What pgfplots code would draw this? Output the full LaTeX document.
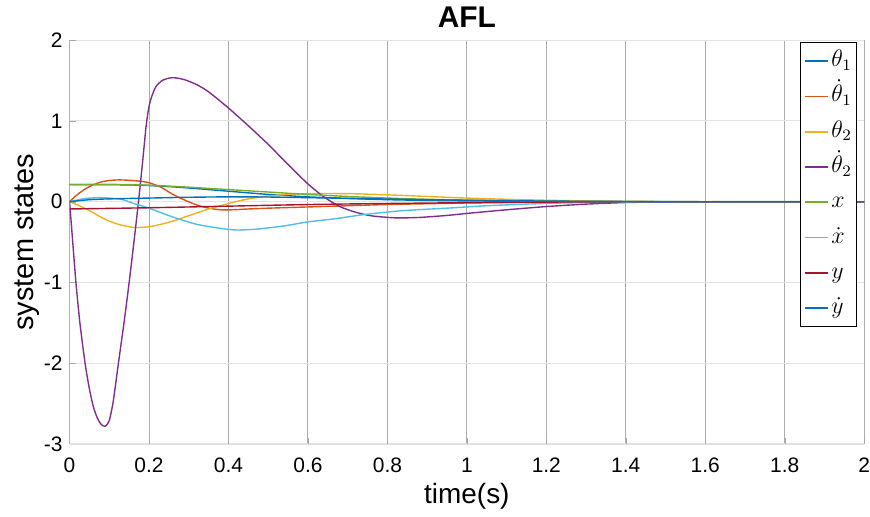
\documentclass[border=0pt]{standalone}
\usepackage{fontspec}
\setmainfont{Liberation Sans}
\usepackage{pgfplots}
\pgfplotsset{compat=1.18}

\definecolor{mblue}{rgb}{0,0.447,0.741}
\definecolor{morange}{rgb}{0.85,0.325,0.098}
\definecolor{myellow}{rgb}{0.929,0.694,0.125}
\definecolor{mpurple}{rgb}{0.494,0.184,0.556}
\definecolor{mgreen}{rgb}{0.466,0.674,0.188}
\definecolor{mcyan}{rgb}{0.301,0.745,0.933}
\definecolor{mred}{rgb}{0.635,0.078,0.184}

\begin{document}
\begin{tikzpicture}
\begin{axis}[
    width=398.5pt, height=202.5pt, scale only axis,
    xmin=0, xmax=2, ymin=-3, ymax=2,
    xtick={0,0.2,...,2.01}, ytick={-3,-2,-1,0,1,2},
    xticklabels={0,0.2,0.4,0.6,0.8,1,1.2,1.4,1.6,1.8,2},
    yticklabels={-3,-2,-1,0,1,2},
    axis x line*=bottom, axis y line*=left,
    x axis line style={gray!25, -}, y axis line style={gray!60, -},
    tick style={gray!70}, major tick length=3pt,
    grid=major,
    major x grid style={gray!65, line width=0.5pt},
    major y grid style={gray!22, line width=0.5pt},
    tick label style={font=\fontsize{10.5}{12}\selectfont},
    xticklabel style={anchor=base, yshift=-14.5pt, inner xsep=0pt},
    /pgf/number format/assume math mode=true,
    title={\textbf{AFL}},
    title style={font=\fontsize{15}{17}\selectfont, at={(axis description cs:0.5,1)}, anchor=base, yshift=0.5pt},
    xlabel={time(s)}, ylabel={system states},
    xlabel style={font=\fontsize{14}{16}\selectfont, at={(axis description cs:0.5,0)}, anchor=base, yshift=-30pt},
    ylabel style={font=\fontsize{14.5}{16}\selectfont, at={(axis description cs:-0.0452,0.5)}, anchor=base, inner ysep=7.5pt},
    every axis plot/.append style={line width=0.7pt, smooth, tension=0.4},
    legend style={at={(1,1)}, anchor=north east, xshift=-3.5pt, yshift=-1pt,
        draw=black, line width=0.5pt, fill=white, inner xsep=1.5pt, inner ysep=3pt,
        font=\fontsize{12}{14}\selectfont, row sep=5.2pt,
        nodes={inner xsep=1pt, inner ysep=0pt, text height=9pt, text depth=3.5pt}},
    legend cell align=left,
    legend image code/.code={\draw[mark repeat=2,mark phase=2,#1,line width=0.9pt] plot coordinates {(0cm,0cm) (0.21cm,0cm) (0.42cm,0cm)};},
  ]
  % theta_1
  \addplot[mblue] coordinates {(0,0.21) (0.1,0.21) (0.15,0.208) (0.2,0.20) (0.25,0.187) (0.3,0.17) (0.35,0.15) (0.4,0.13) (0.5,0.09) (0.6,0.06) (0.7,0.04) (0.8,0.025) (0.9,0.016) (1.0,0.01) (1.15,0.004) (1.3,0.001) (1.5,0) (2,0)};
  % theta_1 dot
  \addplot[morange] coordinates {(0,0) (0.02,0.09) (0.04,0.16) (0.06,0.21) (0.08,0.245) (0.1,0.263) (0.125,0.27) (0.15,0.265) (0.175,0.255) (0.2,0.235) (0.23,0.18) (0.26,0.09) (0.29,0.02) (0.32,-0.04) (0.35,-0.08) (0.38,-0.1) (0.41,-0.1) (0.45,-0.09) (0.5,-0.08) (0.6,-0.065) (0.7,-0.05) (0.8,-0.035) (0.9,-0.025) (1.0,-0.016) (1.1,-0.01) (1.2,-0.006) (1.4,-0.002) (1.6,0) (2,0)};
  % theta_2
  \addplot[myellow] coordinates {(0,0) (0.025,-0.05) (0.05,-0.11) (0.075,-0.18) (0.1,-0.24) (0.13,-0.29) (0.166,-0.32) (0.2,-0.31) (0.23,-0.28) (0.26,-0.24) (0.29,-0.19) (0.32,-0.14) (0.35,-0.09) (0.38,-0.05) (0.41,-0.01) (0.45,0.035) (0.5,0.07) (0.55,0.09) (0.6,0.1) (0.7,0.1) (0.8,0.085) (0.9,0.065) (1.0,0.045) (1.1,0.03) (1.2,0.018) (1.3,0.01) (1.4,0.005) (1.6,0.001) (2,0)};
  % theta_2 dot
  \addplot[mpurple] coordinates {(0,0) (0.004,-0.25) (0.008,-0.5) (0.016,-1.0) (0.026,-1.5) (0.039,-2.0) (0.05,-2.32) (0.06,-2.54) (0.07,-2.68) (0.08,-2.76) (0.09,-2.78) (0.1,-2.71) (0.11,-2.47) (0.123,-2.0) (0.137,-1.5) (0.15,-1.0) (0.166,-0.33) (0.175,0.07) (0.184,0.5) (0.193,0.95) (0.2,1.18) (0.208,1.32) (0.218,1.43) (0.233,1.5) (0.25,1.53) (0.265,1.535) (0.29,1.51) (0.32,1.45) (0.35,1.36) (0.4,1.16) (0.45,0.94) (0.5,0.71) (0.55,0.46) (0.6,0.22) (0.64,0.06) (0.68,-0.06) (0.72,-0.13) (0.76,-0.175) (0.82,-0.2) (0.88,-0.195) (0.95,-0.17) (1.0,-0.145) (1.1,-0.1) (1.2,-0.06) (1.3,-0.03) (1.4,-0.01) (1.5,-0.002) (1.6,0) (2,0)};
  % x
  \addplot[mgreen] coordinates {(0,0.215) (0.1,0.215) (0.2,0.205) (0.3,0.18) (0.4,0.15) (0.5,0.12) (0.6,0.09) (0.7,0.065) (0.8,0.045) (0.9,0.03) (1.0,0.02) (1.1,0.013) (1.2,0.008) (1.35,0.003) (1.5,0) (2,0)};
  % x dot
  \addplot[mcyan] coordinates {(0,0) (0.04,0.04) (0.08,0.05) (0.13,0.03) (0.16,-0.02) (0.2,-0.08) (0.26,-0.19) (0.32,-0.28) (0.38,-0.33) (0.42,-0.35) (0.47,-0.34) (0.54,-0.3) (0.6,-0.25) (0.67,-0.21) (0.74,-0.16) (0.84,-0.11) (0.95,-0.08) (1.05,-0.05) (1.15,-0.03) (1.25,-0.015) (1.4,-0.005) (1.6,0) (2,0)};
  % y
  \addplot[mred] coordinates {(0,-0.09) (0.2,-0.075) (0.4,-0.055) (0.6,-0.035) (0.8,-0.022) (1.0,-0.012) (1.2,-0.005) (1.4,-0.001) (1.6,0) (2,0)};
  % y dot
  \addplot[mblue] coordinates {(0,0) (0.05,0.025) (0.1,0.035) (0.2,0.045) (0.3,0.055) (0.4,0.06) (0.5,0.058) (0.6,0.05) (0.7,0.042) (0.8,0.033) (0.9,0.025) (1.0,0.018) (1.2,0.008) (1.4,0.003) (1.6,0) (2,0)};
  \legend{$\theta_1$, $\dot{\theta}_1$, $\theta_2$, $\dot{\theta}_2$, $x$, $\dot{x}$, $y$, $\dot{y}$}
\end{axis}
\end{tikzpicture}
\end{document}
